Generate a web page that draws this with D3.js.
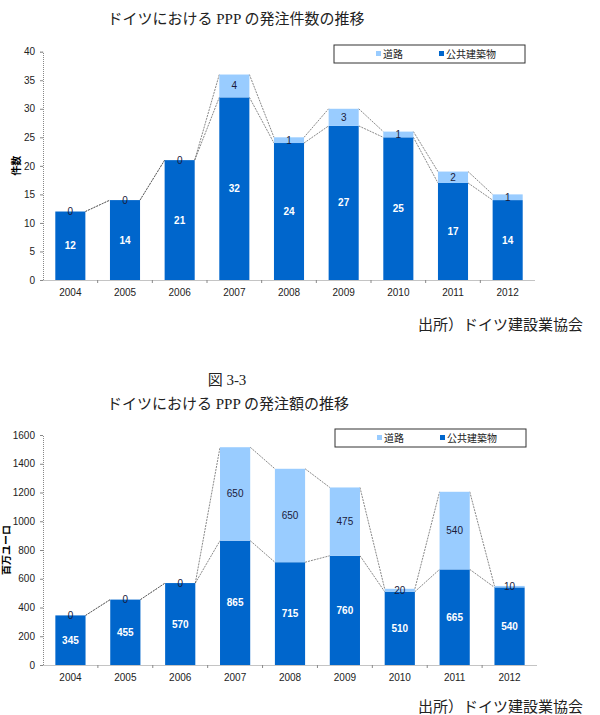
<!DOCTYPE html>
<html>
<head>
<meta charset="utf-8">
<script src="https://cdn.jsdelivr.net/npm/d3@7"></script>
<style>
  body { margin: 0; background: #fff; }
  svg { display: block; }
</style>
</head>
<body>
<div id="page"></div>
<script>
var years = ["2004", "2005", "2006", "2007", "2008", "2009", "2010", "2011", "2012"];
var seriesNames = ["公共建築物", "道路"];

// 図 3-2 件数
var countBuilding = [12, 14, 21, 32, 24, 27, 25, 17, 14];
var countRoad = [0, 0, 0, 4, 1, 3, 1, 2, 1];
var countTicks = [0, 5, 10, 15, 20, 25, 30, 35, 40];

// 図 3-3 金額 (百万ユーロ)
var amountBuilding = [345, 455, 570, 865, 715, 760, 510, 665, 540];
var amountRoad = [0, 0, 0, 650, 650, 475, 20, 540, 10];
var amountTicks = [0, 200, 400, 600, 800, 1000, 1200, 1400, 1600];

var dark = "#0066cc", light = "#99ccff";
var serif = "'Liberation Serif', 'Noto Sans CJK JP', serif";
var sans = "'Liberation Sans', 'Noto Sans CJK JP', Arial, sans-serif";

var svg = d3.select("#page").append("svg")
    .attr("width", 600)
    .attr("height", 715);

function text(x, y, s, size, anchor) {
    return svg.append("text")
        .attr("x", x).attr("y", y)
        .attr("text-anchor", anchor || "middle")
        .style("font-family", serif)
        .style("font-size", size + "px")
        .style("fill", "#222")
        .text(s);
}

text(236, 24, "ドイツにおける PPP の発注件数の推移", 15);
text(583, 330, "出所）ドイツ建設業協会", 15, "end");
text(227, 385, "図 3-3", 15);
text(228, 409, "ドイツにおける PPP の発注額の推移", 15);
text(583, 712, "出所）ドイツ建設業協会", 15, "end");

function drawChart(opt) {
    var g = svg.append("g");
    var x = d3.scaleBand().domain(years).range([opt.left, opt.right]).paddingInner(0.45).paddingOuter(0.225);
    var y = d3.scaleLinear().domain([0, opt.max]).range([opt.bottom, opt.top]);

    var rows = years.map(function (yr, i) {
        return { year: yr, b: opt.building[i], r: opt.road[i] };
    });

    // axes
    var yAxis = g.append("g")
        .attr("transform", "translate(" + opt.left + ",0)")
        .call(d3.axisLeft(y).tickValues(opt.ticks).tickFormat(d3.format("d")).tickSize(3).tickPadding(5));
    var xAxis = g.append("g")
        .attr("transform", "translate(0," + opt.bottom + ")")
        .call(d3.axisBottom(x).tickSize(0).tickPadding(9));
    [yAxis, xAxis].forEach(function (a) {
        a.select(".domain").attr("stroke", "#888").attr("stroke-dasharray", "1,1");
        a.selectAll(".tick line").attr("stroke", "#888");
        a.selectAll("text").style("font-family", sans).style("font-size", "10px").style("fill", "#222");
    });
    // small category separators on x axis
    g.selectAll(".sep")
        .data(years.slice(1))
        .enter().append("line")
        .attr("x1", function (d) { return x(d) - x.step() * x.paddingInner() / 2; })
        .attr("x2", function (d) { return x(d) - x.step() * x.paddingInner() / 2; })
        .attr("y1", opt.bottom).attr("y2", opt.bottom + 3)
        .attr("stroke", "#888");

    g.append("text")
        .attr("transform", "translate(" + opt.labelX + "," + (opt.top + opt.bottom) / 2 + ") rotate(-90)")
        .attr("text-anchor", "middle")
        .attr("dy", "0.35em")
        .style("font-family", sans)
        .style("font-size", "10px")
        .style("font-weight", "bold")
        .text(opt.label);

    // connector lines between bars
    var bw = x.bandwidth();
    [function (d) { return d.b; }, function (d) { return d.b + d.r; }].forEach(function (f) {
        for (var i = 0; i < rows.length - 1; i++) {
            g.append("line")
                .attr("x1", x(rows[i].year) + bw).attr("y1", y(f(rows[i])))
                .attr("x2", x(rows[i + 1].year)).attr("y2", y(f(rows[i + 1])))
                .attr("stroke", "#555").attr("stroke-width", 0.7)
                .attr("stroke-dasharray", "2,1");
        }
    });

    var bars = g.selectAll(".bar").data(rows).enter().append("g");
    bars.append("rect")
        .attr("x", function (d) { return x(d.year); })
        .attr("y", function (d) { return y(d.b); })
        .attr("width", bw)
        .attr("height", function (d) { return y(0) - y(d.b); })
        .attr("fill", dark);
    bars.append("rect")
        .attr("x", function (d) { return x(d.year); })
        .attr("y", function (d) { return y(d.b + d.r); })
        .attr("width", bw)
        .attr("height", function (d) { return y(d.b) - y(d.b + d.r); })
        .attr("fill", light);

    bars.append("text")
        .attr("x", function (d) { return x(d.year) + bw / 2; })
        .attr("y", function (d) { return y(d.b / 2); })
        .attr("dy", "0.35em")
        .attr("text-anchor", "middle")
        .style("font-family", sans).style("font-size", "10px").style("font-weight", "bold")
        .style("fill", "#fff")
        .text(function (d) { return d.b; });
    bars.append("text")
        .attr("x", function (d) { return x(d.year) + bw / 2; })
        .attr("y", function (d) { return y(d.b + d.r / 2); })
        .attr("dy", "0.35em")
        .attr("text-anchor", "middle")
        .style("font-family", sans).style("font-size", "10px")
        .style("fill", "#1a1a3a")
        .text(function (d) { return d.r; });

    // legend
    var lg = g.append("g").attr("transform", "translate(" + opt.legend[0] + "," + opt.legend[1] + ")");
    lg.append("rect").attr("width", 191).attr("height", 18)
        .attr("fill", "#fff").attr("stroke", "#333").attr("stroke-width", 1);
    var items = [{ name: seriesNames[1], color: light, x: 42 }, { name: seriesNames[0], color: dark, x: 105 }];
    items.forEach(function (it) {
        lg.append("rect").attr("x", it.x).attr("y", 6).attr("width", 5).attr("height", 5).attr("fill", it.color);
        lg.append("text").attr("x", it.x + 7).attr("y", 9).attr("dy", "0.35em")
            .style("font-family", sans).style("font-size", "10px").style("fill", "#222")
            .text(it.name);
    });
}

drawChart({
    building: countBuilding, road: countRoad, ticks: countTicks, max: 40,
    left: 43, right: 535, top: 51.7, bottom: 280,
    label: "件数", labelX: 16, legend: [334, 45]
});

drawChart({
    building: amountBuilding, road: amountRoad, ticks: amountTicks, max: 1600,
    left: 43, right: 537, top: 435, bottom: 665,
    label: "百万ユーロ", labelX: 6, legend: [335, 429]
});
</script>
</body>
</html>
